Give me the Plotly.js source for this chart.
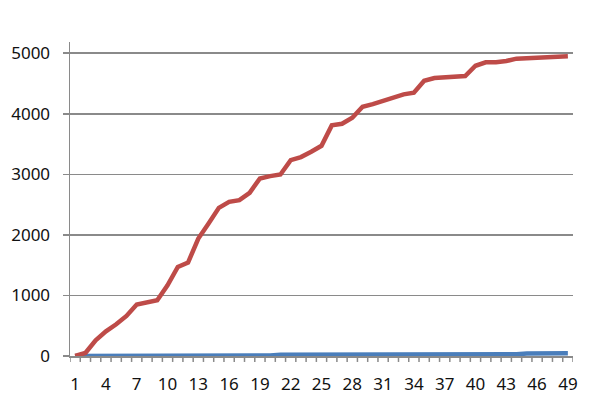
<!DOCTYPE html>
<html>
<head>
<meta charset="utf-8">
<script src="https://cdn.plot.ly/plotly-3.0.1.min.js"></script>
<style>html,body{margin:0;padding:0;background:#fff;}#chart{width:599px;height:399px;}</style>
</head>
<body>
<div id="chart"></div>
<script>
const categories = [1,2,3,4,5,6,7,8,9,10,11,12,13,14,15,16,17,18,19,20,21,22,23,24,25,26,27,28,29,30,31,32,33,34,35,36,37,38,39,40,41,42,43,44,45,46,47,48,49];
const redSeries = [0,50,260,408,524,661,850,893,920,1168,1471,1543,1940,2188,2446,2545,2573,2694,2932,2970,2998,3235,3284,3372,3471,3808,3835,3934,4116,4160,4210,4254,4320,4347,4545,4590,4595,4607,4623,4793,4849,4852,4871,4910,4915,4926,4930,4930,4948];
const blueSeries = [0,0,0,0,0,0,0,10,10,10,10,10,10,10,10,10,10,10,10,10,20,20,20,20,20,20,20,20,20,20,20,20,30,30,30,30,30,30,30,30,30,30,30,30,40,45,45,45,45];
const xTickVals = [1,4,7,10,13,16,19,22,25,28,31,34,37,40,43,46,49];
const xTickText = ["1","4","7","10","13","16","19","22","25","28","31","34","37","40","43","46","49"];
const yTickVals = [0,1000,2000,3000,4000,5000];
const yTickText = ["0","1000","2000","3000","4000","5000"];

// category boundaries for tick marks (between categories)
const boundaries = [0.5].concat(categories.map(c => c + 0.5));

const gridGray = '#8a8a8a';
const traces = [
  {x: categories, y: blueSeries, type: 'scatter', mode: 'lines', line: {color: '#4A7EBB', width: 4.5}, hoverinfo: 'skip'},
  {x: categories, y: redSeries, type: 'scatter', mode: 'lines', line: {color: '#BE4B48', width: 4.5}, hoverinfo: 'skip'}
];
const layout = {
  width: 599, height: 399,
  margin: {l: 70, r: 26, t: 42, b: 43},
  paper_bgcolor: '#fff', plot_bgcolor: '#fff',
  showlegend: false,
  font: {family: 'Noto Sans, sans-serif', size: 17, color: '#111'},
  xaxis: {
    range: [0.5, 49.5], tickmode: 'array', tickvals: xTickVals, ticktext: xTickText,
    ticks: '', showgrid: false, zeroline: false,
    showline: true, linecolor: gridGray, linewidth: 1.5,
    ticklabelstandoff: 12
  },
  yaxis: {
    range: [0, 5185], tickmode: 'array', tickvals: yTickVals, ticktext: yTickText,
    ticks: 'outside', ticklen: 6, tickwidth: 1.5, tickcolor: gridGray,
    showgrid: true, gridcolor: gridGray, gridwidth: 1.5,
    zeroline: false, showline: true, linecolor: gridGray, linewidth: 1.5,
    ticklabelstandoff: 9
  },
  shapes: boundaries.map(b => ({
    type: 'line', xref: 'x', yref: 'paper', x0: b, x1: b, y0: 0, y1: -0.019,
    line: {color: gridGray, width: 1.5}
  }))
};
Plotly.newPlot('chart', traces, layout, {staticPlot: true, displayModeBar: false});
</script>
</body>
</html>
